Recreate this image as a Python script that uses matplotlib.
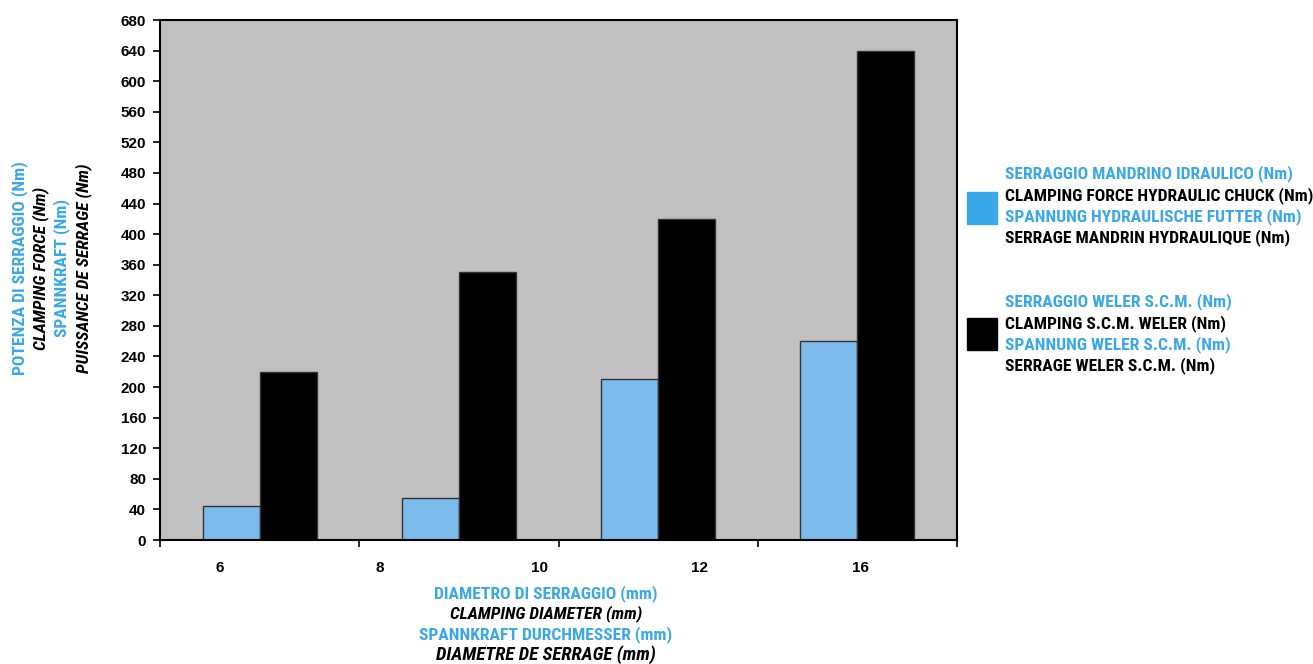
import matplotlib
matplotlib.use("Agg")
import matplotlib.pyplot as plt
from matplotlib.patches import Rectangle
from matplotlib import font_manager

names = {f.name for f in font_manager.fontManager.ttflist}
NARROW = "DejaVu Sans"
for cand in ["Roboto Condensed", "Fira Sans Condensed", "Barlow Condensed", "Archivo Narrow"]:
    if cand in names:
        NARROW = cand
        break
TICKF = "Liberation Sans" if "Liberation Sans" in names else "DejaVu Sans"

groups = [0, 1, 2, 3]
hydraulic = [45, 55, 210, 260]
weler = [220, 350, 420, 640]
x_labels = ["6", "8", "10", "12", "16"]
y_ticks = list(range(0, 681, 40))

BLUE_TXT = "#3aa8e6"
BAR_BLUE = "#7abbec"
PATCH_BLUE = "#3aa8e8"

fig = plt.figure(figsize=(13.13, 6.64), dpi=100)
W, H = 1313, 664
ax = fig.add_axes([160 / W, 1 - 540 / H, 797 / W, 520 / H])
ax.set_facecolor("#c0c0c0")

bw = 0.286
ax.bar([g - bw / 2 for g in groups], hydraulic, width=bw, color=BAR_BLUE,
       edgecolor="#333333", linewidth=1.0, zorder=2)
ax.bar([g + bw / 2 for g in groups], weler, width=bw, color="black",
       edgecolor="#333333", linewidth=1.0, zorder=2)

ax.set_xlim(-0.5, 3.5)
ax.set_ylim(0, 680)
ax.set_yticks(y_ticks)
ax.set_yticklabels([str(v) for v in y_ticks], fontfamily=TICKF, fontweight="bold", fontsize=11)
ax.set_xticks([-0.5, 0.5, 1.5, 2.5, 3.5])
ax.set_xticklabels([])
ax.tick_params(axis="both", direction="out", length=5, width=1.2, color="black")
ax.tick_params(axis="y", pad=5)
for s in ax.spines.values():
    s.set_linewidth(1.5)
    s.set_color("black")

# x category labels (evenly spread as in the reference)
scale = 797 / 4
for i, lab in enumerate(x_labels):
    px = 220 + 160 * i
    xd = (px - 160) / scale - 0.5
    ax.text(xd, -37, lab, ha="center", va="center", fontfamily=TICKF,
            fontweight="bold", fontsize=11, clip_on=False)

def ftxt(x, y, s, color, italic=False, rot=0, ha="center", size=12.6):
    fig.text(x / W, 1 - y / H, s, color=color, ha=ha, va="center",
             rotation=rot, fontfamily=NARROW, fontweight="bold",
             fontstyle="italic" if italic else "normal", fontsize=size)

# x axis title
ftxt(546, 594, "DIAMETRO DI SERRAGGIO (mm)", BLUE_TXT)
ftxt(546, 614, "CLAMPING DIAMETER (mm)", "black", italic=True)
ftxt(546, 635, "SPANNKRAFT DURCHMESSER (mm)", BLUE_TXT)
ftxt(546, 655, "DIAMETRE DE SERRAGE (mm)", "black", italic=True, size=13.6)

# y axis title
ftxt(20, 268, "POTENZA DI SERRAGGIO (Nm)", BLUE_TXT, rot=90)
ftxt(41, 268, "CLAMPING FORCE (Nm)", "black", italic=True, rot=90)
ftxt(62, 268, "SPANNKRAFT (Nm)", BLUE_TXT, rot=90)
ftxt(84, 268, "PUISSANCE DE SERRAGE (Nm)", "black", italic=True, rot=90)

# legend
fig.patches.append(Rectangle((967 / W, 1 - 224 / H), 30 / W, 32 / H,
                             transform=fig.transFigure, color=PATCH_BLUE))
fig.patches.append(Rectangle((967 / W, 1 - 350 / H), 30 / W, 32 / H,
                             transform=fig.transFigure, color="black"))
leg1 = ["SERRAGGIO MANDRINO IDRAULICO (Nm)", "CLAMPING FORCE HYDRAULIC CHUCK (Nm)",
        "SPANNUNG HYDRAULISCHE FUTTER (Nm)", "SERRAGE MANDRIN HYDRAULIQUE (Nm)"]
leg2 = ["SERRAGGIO WELER S.C.M. (Nm)", "CLAMPING S.C.M. WELER (Nm)",
        "SPANNUNG WELER S.C.M. (Nm)", "SERRAGE WELER S.C.M. (Nm)"]
for k, s in enumerate(leg1):
    ftxt(1005, 174 + 21.2 * k, s, BLUE_TXT if k % 2 == 0 else "black", ha="left")
for k, s in enumerate(leg2):
    ftxt(1005, 302 + 21.2 * k, s, BLUE_TXT if k % 2 == 0 else "black", ha="left")

fig.savefig("out.png", dpi=100, facecolor="white")
